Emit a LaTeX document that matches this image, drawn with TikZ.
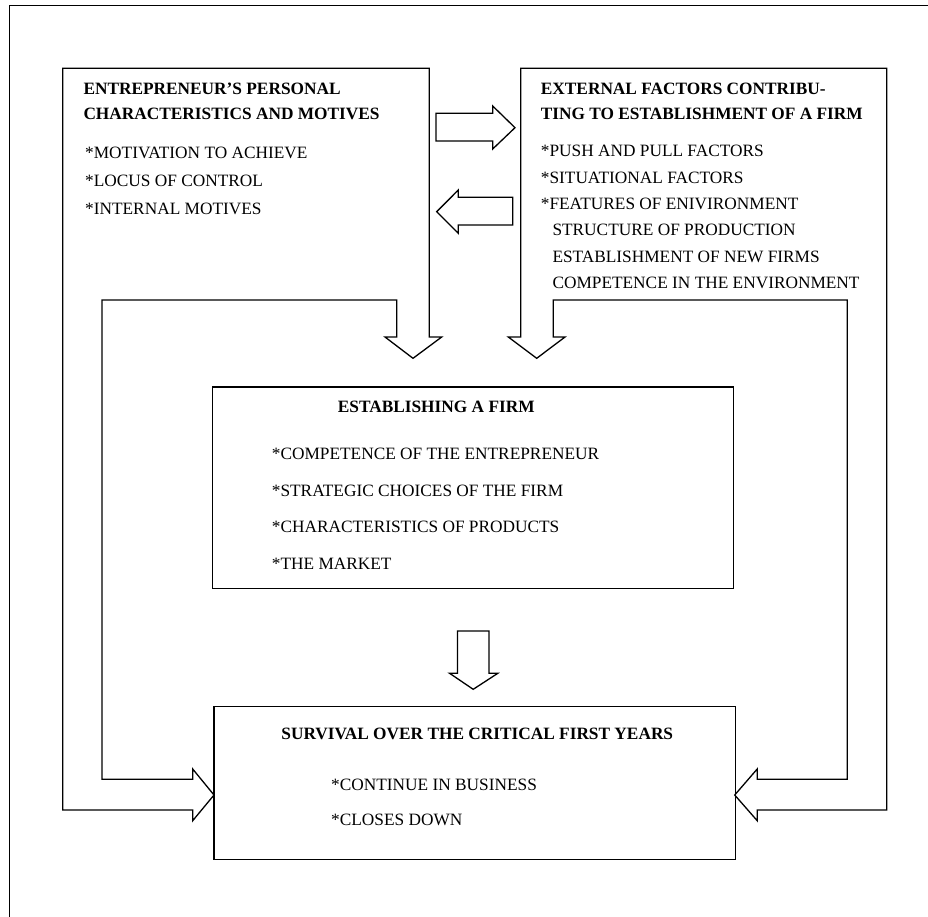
\documentclass[tikz,border=0pt]{standalone}
\usepackage{fontspec}
\setmainfont{Liberation Serif}
\begin{document}
\begin{tikzpicture}[x=1pt,y=-1pt,
  outline/.style={draw=black,line width=1.3pt,line join=miter},
  frame/.style={draw=black,line width=1.5pt},
  head/.style={anchor=base west,inner sep=0pt,font=\fontsize{17.3}{20}\selectfont\bfseries},
  item/.style={anchor=base west,inner sep=0pt,font=\fontsize{17.3}{20}\selectfont}]
\useasboundingbox (0,0) rectangle (928,917);

% outer frame (runs off the page on the right and at the bottom)
\coordinate (fbl) at (9.3,930);
\coordinate (ftl) at (9.3,5.3);
\coordinate (ftr) at (940,5.3);
\draw[frame] (fbl) -- (ftl) -- (ftr);

% left block: personal characteristics, feeding the firm and survival
\draw[outline] (62.7,68.3) -- (429.3,68.3) -- (429.3,337) -- (441.7,337)
  -- (413,358.3) -- (385,337) -- (396.7,337) -- (396.7,300) -- (102,300)
  -- (102,779.3) -- (192.7,779.3) -- (192.7,769) -- (214,795)
  -- (192.7,820.7) -- (192.7,810) -- (62.7,810) -- cycle;

% right block: external factors, feeding the firm and survival
\draw[outline] (520.7,68.3) -- (886.7,68.3) -- (886.7,810) -- (757.2,810)
  -- (757.2,820.7) -- (734.7,795) -- (757.2,769) -- (757.2,779.3)
  -- (847.3,779.3) -- (847.3,300) -- (553.3,300) -- (553.3,337)
  -- (565,337) -- (536.7,358.3) -- (508.3,337) -- (520.7,337) -- cycle;

% arrows between the two upper blocks
\draw[outline] (436,113.3) -- (492.7,113.3) -- (492.7,106) -- (515,127.7)
  -- (492.7,149) -- (492.7,141) -- (436,141) -- cycle;
\draw[outline] (512.7,197.3) -- (458.3,197.3) -- (458.3,190) -- (436.7,211.7)
  -- (458.3,233.3) -- (458.3,225) -- (512.7,225) -- cycle;

% establishing box
\node[outline,minimum width=521pt,minimum height=201.3pt,anchor=north west,inner sep=0pt]
  (firm) at (211.7,386.3) {};

% arrow from the firm to survival
\draw[outline] (457.5,631) -- (488.9,631) -- (488.9,673.3) -- (497.8,673.3)
  -- (473.2,689.3) -- (449.6,673.3) -- (457.5,673.3) -- cycle;

% survival box
\node[outline,minimum width=521.5pt,minimum height=153pt,anchor=north west,inner sep=0pt]
  (surv) at (213.2,706) {};

% texts of the left block
\node[head] (lt1) at (83.3,95) {ENTREPRENEUR’S PERSONAL};
\node[head] (lt2) at (83.3,119.3) {CHARACTERISTICS AND MOTIVES};
\node[item] (li1) at (85,158.3) {*MOTIVATION TO ACHIEVE};
\node[item] (li2) at (85,186.7) {*LOCUS OF CONTROL};
\node[item] (li3) at (85,214.3) {*INTERNAL MOTIVES};

% texts of the right block
\node[head] (rt1) at (540.7,95) {EXTERNAL FACTORS CONTRIBU-};
\node[head] (rt2) at (540.7,119.3) {TING TO ESTABLISHMENT OF A FIRM};
\node[item] (ri1) at (540.7,156.7) {*PUSH AND PULL FACTORS};
\node[item] (ri2) at (540.7,183.3) {*SITUATIONAL FACTORS};
\node[item] (ri3) at (540.7,210) {*FEATURES OF ENIVIRONMENT};
\node[item] (ri4) at (552.3,236) {STRUCTURE OF PRODUCTION};
\node[item] (ri5) at (552.3,262.3) {ESTABLISHMENT OF NEW FIRMS};
\node[item] (ri6) at (552.3,288.3) {COMPETENCE IN THE ENVIRONMENT};

% texts of the establishing box
\node[head] (ft) at (337.7,412.7) {ESTABLISHING A FIRM};
\node[item] (fi1) at (271.7,459.3) {*COMPETENCE OF THE ENTREPRENEUR};
\node[item] (fi2) at (271.7,496.3) {*STRATEGIC CHOICES OF THE FIRM};
\node[item] (fi3) at (271.7,532.7) {*CHARACTERISTICS OF PRODUCTS};
\node[item] (fi4) at (271.7,569.3) {*THE MARKET};

% texts of the survival box
\node[head] (st) at (281.2,739.3) {SURVIVAL OVER THE CRITICAL FIRST YEARS};
\node[item] (si1) at (331,790.7) {*CONTINUE IN BUSINESS};
\node[item] (si2) at (331,825.7) {*CLOSES DOWN};
\end{tikzpicture}
\end{document}
